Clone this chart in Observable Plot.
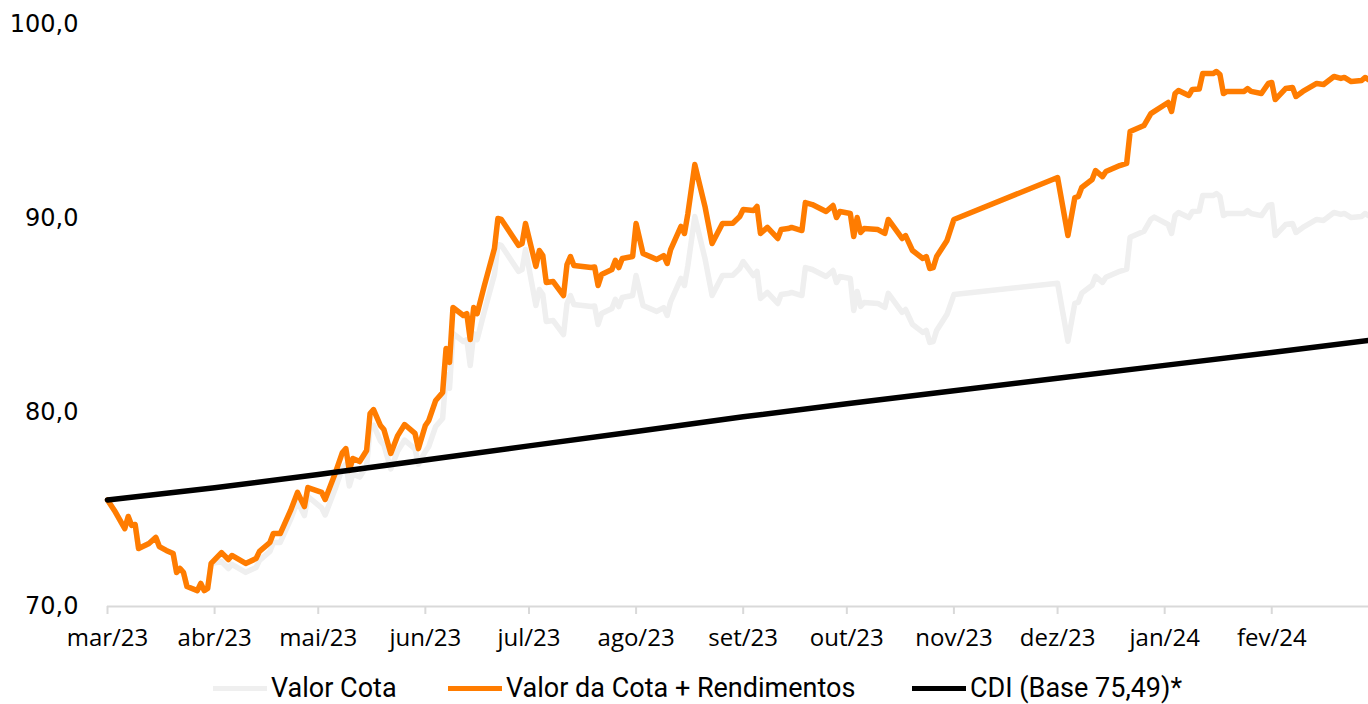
<!DOCTYPE html>
<html><head><meta charset="utf-8">
<script src="https://cdn.jsdelivr.net/npm/d3@7"></script>
<script src="https://cdn.jsdelivr.net/npm/@observablehq/plot@0.6"></script>
<style>
body{margin:0;background:#fff;}
#legend{position:relative;font-family:Roboto;font-size:27px;line-height:32px;color:#000;margin-top:16px;height:32px;width:1368px;}
.item{position:absolute;top:0;display:flex;align-items:center;white-space:nowrap;height:32px;}
.sw{display:inline-block;width:54px;height:5px;margin-right:4px;}
</style></head><body>
<div id="chart"></div>
<div id="legend"></div>
<script>
const dates = ["2023-03-01","2023-03-03","2023-03-06","2023-03-07","2023-03-08","2023-03-09","2023-03-10","2023-03-13","2023-03-15","2023-03-16","2023-03-18","2023-03-20","2023-03-21","2023-03-22","2023-03-23","2023-03-24","2023-03-27","2023-03-28","2023-03-29","2023-03-30","2023-03-31",
"2023-04-03","2023-04-05","2023-04-06","2023-04-10","2023-04-13","2023-04-14","2023-04-17","2023-04-18","2023-04-20","2023-04-23","2023-04-25","2023-04-27","2023-04-28",
"2023-05-02","2023-05-03","2023-05-06","2023-05-08","2023-05-09","2023-05-10","2023-05-11","2023-05-13","2023-05-15","2023-05-16","2023-05-17","2023-05-19","2023-05-20","2023-05-22","2023-05-24","2023-05-26","2023-05-29","2023-05-30",
"2023-06-01","2023-06-02","2023-06-04","2023-06-06","2023-06-07","2023-06-08","2023-06-09","2023-06-12","2023-06-13","2023-06-14","2023-06-15","2023-06-16","2023-06-18","2023-06-21","2023-06-22","2023-06-23","2023-06-28","2023-06-29","2023-06-30",
"2023-07-03","2023-07-04","2023-07-05","2023-07-06","2023-07-08","2023-07-11","2023-07-12","2023-07-13","2023-07-14","2023-07-19","2023-07-20","2023-07-21","2023-07-22","2023-07-25","2023-07-26","2023-07-27","2023-07-28","2023-07-31",
"2023-08-01","2023-08-03","2023-08-07","2023-08-09","2023-08-10","2023-08-11","2023-08-14","2023-08-15","2023-08-16","2023-08-18","2023-08-21","2023-08-23","2023-08-26","2023-08-29","2023-08-31",
"2023-09-01","2023-09-04","2023-09-05","2023-09-06","2023-09-08","2023-09-11","2023-09-12","2023-09-14","2023-09-15","2023-09-18","2023-09-19","2023-09-21","2023-09-25","2023-09-27","2023-09-28","2023-09-29",
"2023-10-02","2023-10-03","2023-10-04","2023-10-05","2023-10-06","2023-10-10","2023-10-12","2023-10-13","2023-10-17","2023-10-18","2023-10-20","2023-10-23","2023-10-24","2023-10-25","2023-10-26","2023-10-27","2023-10-30",
"2023-11-01",
"2023-12-01","2023-12-04","2023-12-06","2023-12-07","2023-12-08","2023-12-11","2023-12-12","2023-12-14","2023-12-15","2023-12-19","2023-12-21","2023-12-22","2023-12-26","2023-12-28","2023-12-29",
"2024-01-02","2024-01-03","2024-01-04","2024-01-05","2024-01-08","2024-01-09","2024-01-11","2024-01-12","2024-01-15","2024-01-16","2024-01-17","2024-01-18","2024-01-19","2024-01-24","2024-01-25","2024-01-26","2024-01-29","2024-01-31",
"2024-02-01","2024-02-02","2024-02-05","2024-02-07","2024-02-08","2024-02-10","2024-02-14","2024-02-16","2024-02-19","2024-02-21","2024-02-22","2024-02-24","2024-02-27","2024-02-28","2024-02-29"];

// Valor da Cota + Rendimentos
const cotaRendimentos = [75.49,74.95,74.02,74.64,74.18,74.23,72.99,73.25,73.56,73.09,72.89,72.73,71.75,71.96,71.75,71.03,70.82,71.19,70.82,70.93,72.22,
72.78,72.42,72.63,72.22,72.47,72.84,73.30,73.76,73.76,74.95,75.88,75.15,76.13,
75.88,75.52,76.91,77.94,78.14,77.01,77.63,77.47,78.04,79.95,80.15,79.33,79.12,77.89,78.81,79.38,78.92,78.14,
79.33,79.59,80.62,81.03,83.30,82.58,85.41,85.00,85.10,83.76,85.41,85.10,86.49,88.45,90.00,89.95,88.61,88.71,89.74,
87.53,88.35,88.09,86.70,86.75,86.03,87.63,88.04,87.58,87.47,87.50,86.55,87.11,87.37,87.84,87.47,87.94,88.04,
89.74,88.20,87.89,88.09,87.68,88.40,89.59,89.23,90.26,92.78,90.57,88.71,89.74,89.76,90.10,
90.46,90.41,90.62,89.23,89.54,88.97,89.43,89.48,89.54,89.38,90.82,90.72,90.36,90.67,90.05,90.36,
90.26,89.07,90.05,89.28,89.48,89.43,89.23,89.95,88.97,89.12,88.35,87.94,88.04,87.42,87.47,88.04,88.87,
89.95,
92.11,89.12,91.08,91.13,91.60,92.01,92.47,92.16,92.42,92.73,92.84,94.48,94.79,95.41,95.52,
95.98,95.52,96.44,96.60,96.34,96.65,96.67,97.47,97.47,97.58,97.42,96.44,96.55,96.55,96.70,96.55,96.44,96.96,
97.01,96.13,96.70,96.75,96.29,96.55,96.96,96.91,97.32,97.22,97.27,97.06,97.11,97.27,97.16];

// Valor Cota
const valorCota = [75.49,74.95,74.02,74.64,74.18,74.23,72.99,73.25,73.56,73.09,72.89,72.73,71.75,71.96,71.75,71.03,70.82,71.19,70.82,70.93,72.22,
72.32,71.96,72.17,71.76,72.01,72.38,72.84,73.30,73.30,74.49,75.42,74.69,75.67,
75.08,74.72,76.11,77.14,77.34,76.21,76.83,76.67,77.24,79.15,79.35,78.53,78.32,77.09,78.01,78.58,78.12,77.34,
77.99,78.25,79.28,79.69,81.96,81.24,84.07,83.66,83.76,82.42,84.07,83.76,85.15,87.11,88.66,88.61,87.27,87.37,88.40,
85.52,86.34,86.08,84.69,84.74,84.02,85.62,86.03,85.57,85.46,85.49,84.54,85.10,85.36,85.83,85.46,85.93,86.03,
87.06,85.52,85.21,85.41,85.00,85.72,86.91,86.55,87.58,90.10,87.89,86.03,87.06,87.08,87.42,
87.78,87.06,87.27,85.88,86.19,85.62,86.08,86.13,86.19,86.03,87.47,87.37,87.01,87.32,86.70,87.01,
86.91,85.26,86.24,85.47,85.67,85.62,85.42,86.14,85.16,85.31,84.54,84.13,84.23,83.61,83.66,84.23,85.06,
86.08,
86.66,83.67,85.63,85.68,86.15,86.56,87.02,86.71,86.97,87.28,87.39,89.03,89.34,89.96,90.07,
89.69,89.23,90.15,90.31,90.05,90.36,90.38,91.18,91.18,91.29,91.13,90.15,90.26,90.26,90.41,90.26,90.15,90.67,
90.72,89.12,89.69,89.74,89.28,89.54,89.95,89.90,90.31,90.21,90.26,90.05,90.10,90.26,90.15];

// CDI (Base 75,49)
const cdiDates = ["2023-03-01","2023-04-01","2023-05-01","2023-06-01","2023-07-01","2023-08-01","2023-09-01","2023-10-01","2023-11-01","2023-12-01","2024-01-01","2024-02-01","2024-02-29"];
const cdiValues = [75.49,76.12,76.80,77.55,78.28,79.02,79.78,80.45,81.12,81.77,82.43,83.09,83.71];

const tickDates = ["2023-03-01","2023-04-01","2023-05-01","2023-06-01","2023-07-01","2023-08-01","2023-09-01","2023-10-01","2023-11-01","2023-12-01","2024-01-01","2024-02-01"];
const monthLabels = ["mar/23","abr/23","mai/23","jun/23","jul/23","ago/23","set/23","out/23","nov/23","dez/23","jan/24","fev/24"];
const yTicks = [70, 80, 90, 100];

const seriesNames = ["Valor Cota", "Valor da Cota + Rendimentos", "CDI (Base 75,49)*"];
const seriesColors = ["#efefef", "#ff7c00", "#000000"];
const legendLeft = [213, 448, 912];

const table = dates.map((d, i) => ({date: new Date(d), cota: valorCota[i], rend: cotaRendimentos[i]}));
const cdi = cdiDates.map((d, i) => ({date: new Date(d), v: cdiValues[i]}));
const labelMap = new Map(tickDates.map((d, i) => [new Date(d).getTime(), monthLabels[i]]));

const chart = Plot.plot({
  width: 1368, height: 656,
  marginLeft: 107, marginRight: 0, marginTop: 24, marginBottom: 50,
  x: {type: "utc", domain: [new Date("2023-03-01"), new Date("2024-02-29")]},
  y: {domain: [70, 100]},
  style: {background: "#fff"},
  marks: [
    Plot.ruleY([70], {stroke: "#d9d9d9", strokeWidth: 2}),
    Plot.axisX({ticks: tickDates.map(d => new Date(d)), tickFormat: d => labelMap.get(d.getTime()), tickSize: 8, tickPadding: 14, stroke: "#d9d9d9", strokeWidth: 2, fill: "#000", fontSize: 24, fontFamily: "Open Sans", label: null}),
    Plot.axisY({ticks: yTicks, tickFormat: d => d.toFixed(1).replace(".", ","), tickSize: 0, tickPadding: 29, fill: "#000", fontSize: 24, fontFamily: "DejaVu Sans", label: null}),
    Plot.lineY(table, {x: "date", y: "cota", stroke: seriesColors[0], strokeWidth: 5.5, strokeLinejoin: "round"}),
    Plot.lineY(table, {x: "date", y: "rend", stroke: seriesColors[1], strokeWidth: 5.5, strokeLinejoin: "round"}),
    Plot.lineY(cdi, {x: "date", y: "v", stroke: seriesColors[2], strokeWidth: 5.5, strokeLinejoin: "round"})
  ]
});
document.getElementById("chart").appendChild(chart);

const legend = document.getElementById("legend");
seriesNames.forEach((n, i) => {
  const it = document.createElement("div");
  it.className = "item";
  it.style.left = legendLeft[i] + "px";
  const sw = document.createElement("span");
  sw.className = "sw";
  sw.style.background = seriesColors[i];
  it.appendChild(sw);
  it.appendChild(document.createTextNode(n));
  legend.appendChild(it);
});
</script>
</body></html>
